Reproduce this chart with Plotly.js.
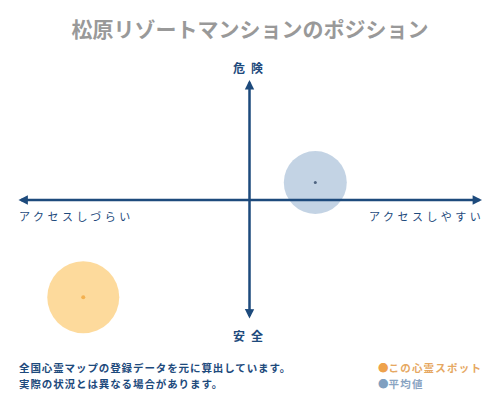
<!DOCTYPE html>
<html>
<head>
<meta charset="utf-8">
<script src="https://cdn.plot.ly/plotly-3.0.1.min.js"></script>
<style>
  html, body { margin: 0; padding: 0; background: #fff; }
  #chart { width: 500px; height: 400px; }
</style>
</head>
<body>
<div id="chart"></div>
<script>
// position of this spot and the average, on a -1..1 grid
const seriesNames = ['この心霊スポット', '平均値'];
const accessScore = [-0.715, 0.283]; // left = hard to reach, right = easy
const dangerScore = [-0.81, 0.146]; // up = danger, down = safe
const bubbleSize = [72, 63];

const axisLabels = {
  top: '危険',
  bottom: '安全',
  left: 'アクセスしづらい',
  right: 'アクセスしやすい',
};
const noteLines = [
  '全国心霊マップの登録データを元に算出しています。',
  '実際の状況とは異なる場合があります。',
];

const FONT = 'Noto Sans CJK JP, sans-serif';
const NAVY = '#1d4a7c';
const fillColors = ['#fcca72', '#aac0d9'];
const dotColors = ['#f0a030', '#1d3557'];
const legendColors = ['#eea24c', '#7f9fc0'];
const legendTextColors = ['#e6a862', '#8aa4c2'];

const spaced = (t, px) => `<span style="letter-spacing:${px}px">${t}</span>`;

const traces = [
  {
    type: 'scatter',
    mode: 'markers',
    x: accessScore,
    y: dangerScore,
    hoverinfo: 'skip',
    cliponaxis: false,
    marker: { size: bubbleSize, color: fillColors, line: { width: 0 } },
  },
  {
    type: 'scatter',
    mode: 'markers',
    x: accessScore,
    y: dangerScore,
    hoverinfo: 'skip',
    cliponaxis: false,
    marker: { size: [4, 3], color: dotColors, line: { width: 0 } },
  },
];

const arrow = {
  xref: 'x', yref: 'y', axref: 'x', ayref: 'y',
  text: '',
  showarrow: true,
  arrowhead: 2,
  arrowside: 'end+start',
  arrowsize: 0.75,
  arrowwidth: 2.5,
  arrowcolor: NAVY,
  standoff: 0,
  startstandoff: 0,
};

const label = (text, x, y, xanchor, size, color, bold) => ({
  xref: 'paper', yref: 'paper',
  x, y, xanchor, yanchor: 'middle',
  showarrow: false,
  text: bold ? `<b>${text}</b>` : text,
  font: { family: FONT, size, color },
});

const annotations = [
  { ...arrow, x: 1, y: 0, ax: -1, ay: 0 },
  { ...arrow, x: 0, y: 1, ax: 0, ay: -1 },
  label(spaced(axisLabels.top, 6), 0.503, 1.054, 'center', 12, NAVY, true),
  label(spaced(axisLabels.bottom, 6), 0.503, -0.0625, 'center', 12, NAVY, true),
  label(spaced(axisLabels.left, 3.5), 0, 0.433, 'left', 11, NAVY, false),
  label(spaced(axisLabels.right, 3.5), 1.008, 0.433, 'right', 11, NAVY, false),
  label(spaced(noteLines[0], 0.9), 0, -0.196, 'left', 10.5, NAVY, true),
  label(spaced(noteLines[1], 0.9), 0, -0.2625, 'left', 10.5, NAVY, true),
];

seriesNames.forEach((name, i) => {
  annotations.push(label(
    `<span style="color:${legendColors[i]}">●</span>${spaced(name, 1.2)}`,
    0.773, -0.196 - i * 0.0665, 'left', 10.5, legendTextColors[i], true,
  ));
});

const layout = {
  width: 500,
  height: 400,
  paper_bgcolor: '#fff',
  plot_bgcolor: '#fff',
  margin: { l: 17, r: 18, t: 80, b: 80 },
  showlegend: false,
  title: {
    text: '<b>松原リゾートマンションのポジション</b>',
    x: 0.5,
    xanchor: 'center',
    y: 0.925,
    yanchor: 'middle',
    font: { family: FONT, size: 21, color: '#999999' },
  },
  xaxis: { range: [-1, 1], visible: false, fixedrange: true },
  yaxis: { range: [-1, 1], visible: false, fixedrange: true },
  annotations,
};

Plotly.newPlot('chart', traces, layout, { displayModeBar: false, staticPlot: true });
</script>
</body>
</html>
